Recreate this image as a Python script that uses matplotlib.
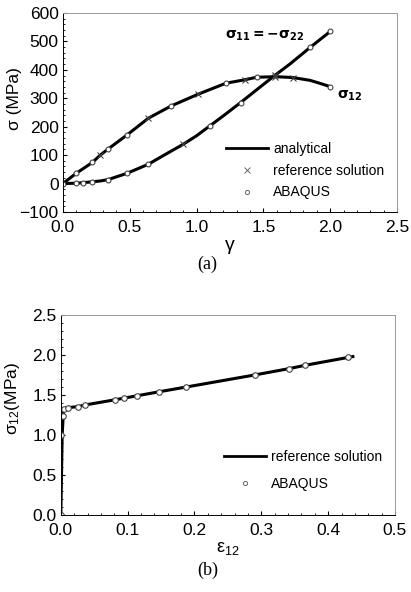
import numpy as np
import matplotlib
matplotlib.use("Agg")
import matplotlib.pyplot as plt
from matplotlib.lines import Line2D
from matplotlib.ticker import AutoMinorLocator

plt.rcParams['font.family'] = ['Liberation Sans', 'DejaVu Sans']

# (a) analytical curves, sigma vs gamma
gam_12 = [0.0, 0.10, 0.22, 0.28, 0.34, 0.48, 0.64, 0.81, 1.01, 1.22, 1.36, 1.45, 1.59, 1.72, 1.85, 1.92, 2.0]
sig_12 = [0, 36, 74, 100, 122, 171, 230, 273, 314, 353, 365, 374, 376, 373, 363, 353, 341]
gam_11 = [0.0, 0.10, 0.15, 0.22, 0.28, 0.34, 0.48, 0.64, 0.75, 0.90, 1.0, 1.10, 1.2, 1.33, 1.45, 1.59, 1.7, 1.85, 2.0]
sig_11 = [0, 1, 3, 6, 9, 14, 36, 68, 98, 138, 168, 203, 238, 285, 330, 382, 421, 479, 535]

# reference solution (crosses)
ref_g = [0.28, 0.64, 1.01, 1.36, 1.59, 1.72, 0.90, 1.59]
ref_s = [100, 230, 314, 365, 376, 373, 138, 382]
# ABAQUS (circles)
abq_g = [0.0, 0.10, 0.22, 0.34, 0.48, 0.81, 1.22, 1.45, 2.0,
         0.10, 0.15, 0.22, 0.34, 0.48, 0.64, 1.10, 1.33, 1.85, 2.0]
abq_s = [0, 36, 74, 122, 171, 273, 353, 374, 341,
         1, 3, 6, 14, 36, 68, 203, 285, 479, 535]

# (b) sigma12 vs eps12
eps_ref = [0.0, 0.002, 0.004, 0.008, 0.026, 0.036, 0.081, 0.114, 0.147, 0.188, 0.29, 0.342, 0.365, 0.437]
sig_ref = [0.0, 1.0, 1.30, 1.34, 1.355, 1.375, 1.44, 1.49, 1.54, 1.60, 1.75, 1.83, 1.87, 1.98]
eps_abq = [0.0, 0.001, 0.003, 0.004, 0.011, 0.026, 0.036, 0.081, 0.094, 0.114, 0.147, 0.188, 0.29, 0.342, 0.365, 0.43]
sig_abq = [0.0, 1.0, 1.24, 1.33, 1.34, 1.35, 1.375, 1.44, 1.46, 1.49, 1.54, 1.60, 1.75, 1.83, 1.87, 1.98]

fig = plt.figure(figsize=(4.11, 5.92), dpi=100)
ax1 = fig.add_axes([0.153, 0.642, 0.813, 0.336])
ax2 = fig.add_axes([0.148, 0.130, 0.813, 0.338])

for ax in (ax1, ax2):
    ax.tick_params(direction='in', labelsize=12.5, length=3, top=False, right=False, pad=3)
    ax.tick_params(axis='x', pad=6)
    ax.tick_params(which='minor', direction='in', length=1.5, top=False, right=False)
    ax.xaxis.set_minor_locator(AutoMinorLocator(5))
    ax.yaxis.set_minor_locator(AutoMinorLocator(5))
    for sp in ax.spines.values():
        sp.set_linewidth(0.7)
    for s in ('top', 'right'):
        ax.spines[s].set_color('#999999')

# top panel
ax1.plot(gam_12, sig_12, color='black', lw=2.2)
ax1.plot(gam_11, sig_11, color='black', lw=2.2)
ax1.plot(ref_g, ref_s, 'x', color='#444444', ms=5, mew=0.8)
ax1.plot(abq_g, abq_s, 'o', mfc='white', mec='#444444', ms=3.5, mew=0.8)
ax1.set_xlim(0, 2.5)
ax1.set_ylim(-100, 600)
ax1.set_xticks([0.0, 0.5, 1.0, 1.5, 2.0, 2.5])
ax1.set_yticks(range(-100, 601, 100))
ax1.set_xticklabels(['0.0', '0.5', '1.0', '1.5', '2.0', '2.5'])
ax1.set_ylabel('σ (MPa)', fontsize=12.5)
ax1.yaxis.set_label_coords(-0.122, 0.57)
ax1.set_xlabel('γ', fontsize=14, labelpad=1)
ax1.text(1.21, 510, r'$\mathbf{\sigma_{11}=-\sigma_{22}}$', fontsize=10)
ax1.text(2.05, 300, r'$\mathbf{\sigma_{12}}$', fontsize=10)
h1 = [Line2D([], [], color='black', lw=2),
      Line2D([], [], ls='none', marker='x', color='#666666', ms=5, mew=0.7),
      Line2D([], [], ls='none', marker='o', mfc='white', mec='#666666', ms=3, mew=0.7)]
ax1.legend(h1, ['analytical', 'reference solution', 'ABAQUS'], loc='lower right',
           bbox_to_anchor=(1.0, 0.0), frameon=False, fontsize=10,
           handlelength=3, handletextpad=0.4, labelspacing=0.55)
fig.text(0.505, 0.545, '(a)', ha='center', fontsize=13, family='Liberation Serif')

# bottom panel
ax2.plot(eps_ref, sig_ref, color='black', lw=2.2)
ax2.plot(eps_abq, sig_abq, 'o', mfc='white', mec='#444444', ms=4, mew=0.8)
ax2.set_xlim(0, 0.5)
ax2.set_ylim(0, 2.5)
ax2.set_xticks([0.0, 0.1, 0.2, 0.3, 0.4, 0.5])
ax2.set_yticks([0.0, 0.5, 1.0, 1.5, 2.0, 2.5])
ax2.set_xticklabels(['0.0', '0.1', '0.2', '0.3', '0.4', '0.5'])
ax2.set_yticklabels(['0.0', '0.5', '1.0', '1.5', '2.0', '2.5'])
ax2.set_ylabel(r'$\mathregular{\sigma_{12}}$(MPa)', fontsize=12.5)
ax2.yaxis.set_label_coords(-0.117, 0.585)
ax2.set_xlabel(r'$\mathregular{\varepsilon_{12}}$', fontsize=13, labelpad=1)
h2 = [Line2D([], [], color='black', lw=2),
      Line2D([], [], ls='none', marker='o', mfc='white', mec='#666666', ms=3, mew=0.7)]
ax2.legend(h2, ['reference solution', 'ABAQUS'], loc='lower right',
           bbox_to_anchor=(1.0, 0.06), frameon=False, fontsize=10,
           handlelength=3, handletextpad=0.4, labelspacing=0.9)
fig.text(0.505, 0.028, '(b)', ha='center', fontsize=13, family='Liberation Serif')

fig.savefig('out.png', dpi=100)
